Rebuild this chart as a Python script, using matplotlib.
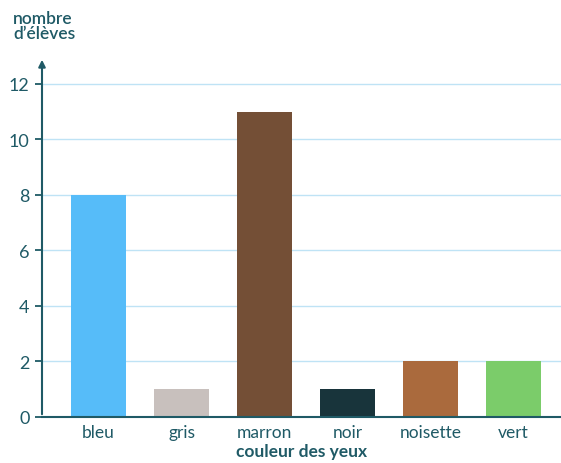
import matplotlib
matplotlib.use('Agg')
import matplotlib.pyplot as plt

couleurs = ['bleu', 'gris', 'marron', 'noir', 'noisette', 'vert']
eleves = [8, 1, 11, 1, 2, 2]
bar_colors = ['#56BCF9', '#C8C0BD', '#744F36', '#18343B', '#AA6A3D', '#7BCC6A']
yticks = [0, 2, 4, 6, 8, 10, 12]

teal = '#1F5A66'
plt.rcParams['font.family'] = ['Lato', 'DejaVu Sans']

fig = plt.figure(figsize=(5.61, 4.64), dpi=100)
ax = fig.add_axes([42/561, 46/464, 1 - 42/561, (418-58)/464])

x = range(len(couleurs))
ax.bar(x, eleves, width=0.67, color=bar_colors, zorder=3)

ax.set_ylim(0, 12.97)
ax.set_xlim(-0.68, 5.57)
ax.set_yticks(yticks)
ax.set_xticks(list(x))
ax.set_xticklabels(couleurs)
ax.yaxis.grid(True, color='#BFE3F5', linewidth=1, zorder=0)
ax.tick_params(axis='y', colors=teal, labelsize=13, length=5, width=1.3, pad=4)
ax.tick_params(axis='x', colors=teal, labelsize=12.5, length=0, pad=5)
for lab in ax.get_yticklabels() + ax.get_xticklabels():
    lab.set_color(teal)

for s in ['top', 'right']:
    ax.spines[s].set_visible(False)
ax.spines['left'].set_visible(False)
ax.spines['bottom'].set_color(teal)
ax.spines['bottom'].set_linewidth(1.5)
ax.spines['bottom'].set_zorder(4)

# vertical axis with arrow
ax.annotate('', xy=(0, 1.0), xytext=(0, 0), xycoords='axes fraction',
            arrowprops=dict(arrowstyle='-|>', color=teal, lw=1.5, mutation_scale=10))

ax.set_xlabel('couleur des yeux', color=teal, fontsize=12.5, fontweight='bold', labelpad=2)
fig.text(13/561, 1 - 11/464, "nombre\nd\u2019élèves", color=teal, fontsize=12.5,
         fontweight='semibold', va='top', ha='left', linespacing=0.95)

fig.savefig('out.png', dpi=100)
